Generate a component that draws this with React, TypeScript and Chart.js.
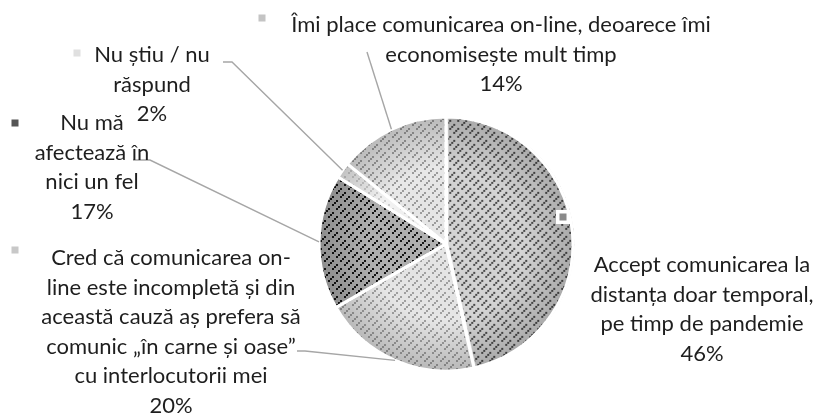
import React, { useEffect, useRef } from 'react';
import { Chart, registerables } from 'chart.js';

Chart.register(...registerables);

// ---- data ----
const categories = [
  'Accept comunicarea la distanța doar temporal, pe timp de pandemie',
  'Cred că comunicarea on-line este incompletă și din această cauză aș prefera să comunic „în carne și oase” cu interlocutorii mei',
  'Nu mă afectează în nici un fel',
  'Nu știu / nu răspund',
  'Îmi place comunicarea on-line, deoarece îmi economisește mult timp',
];
const values = [46, 20, 17, 2, 14];
const wrappedLabels = [
  ['Accept comunicarea la', 'distanța doar temporal,', 'pe timp de pandemie'],
  ['Cred că comunicarea on-', 'line este incompletă și din', 'această cauză aș prefera să', 'comunic „în carne și oase”', 'cu interlocutorii mei'],
  ['Nu mă', 'afectează în', 'nici un fel'],
  ['Nu știu / nu', 'răspund'],
  ['Îmi place comunicarea on-line, deoarece îmi', 'economisește mult timp'],
];

// ---- styles / layout ----
const patternBg = ['#d4d4d4', '#e6e6e6', '#b0b0b0', '#f2f2f2', '#e8e8e8'];
const patternFg = ['#4a4a4a', '#a0a0a0', '#141414', '#cccccc', '#9c9c9c'];
const keyColors = ['#8a8a8a', '#c8c8c8', '#555555', '#e0e0e0', '#c4c4c4'];
const sliceOffsets = [5, 0, 0, 0, 0];
const labelLayout = [
  { cx: 702, y0: 265, key: [563, 217], keyBox: true, leader: [] as number[][] },
  { cx: 171, y0: 258, key: [15, 250], keyBox: false, leader: [[297, 351], [305, 351]] },
  { cx: 92, y0: 123, key: [15, 123], keyBox: false, leader: [[133, 160], [150, 160]] },
  { cx: 152, y0: 55, key: [77, 53], keyBox: false, leader: [[223, 62], [232, 62]] },
  { cx: 501, y0: 25, key: [262, 18], keyBox: false, leader: [[367, 52]] },
];
const LINE_STEP = 29.6;
const FONT = '22px Lato';
const TEXT_COLOR = '#1e1e1e';
const LEADER_COLOR = '#a6a6a6';

function makePattern(bg: string, fg: string): CanvasPattern | string {
  const cell = 2;
  const n = 8;
  const c = document.createElement('canvas');
  c.width = n * cell;
  c.height = n * cell;
  const g = c.getContext('2d');
  if (!g) return bg;
  g.fillStyle = bg;
  g.fillRect(0, 0, c.width, c.height);
  g.fillStyle = fg;
  for (let y = 0; y < n; y++) {
    for (let x = 0; x < n; x++) {
      const d = (((x - y) % 8) + 8) % 8;
      if ((x + y) % 4 === 0 && d !== 6) g.fillRect(x * cell, y * cell, cell, cell);
    }
  }
  const p = g.createPattern(c, 'repeat');
  return p || bg;
}

const labelPlugin = {
  id: 'calloutLabels',
  afterDatasetsDraw(chart: any) {
    const ctx = chart.ctx as CanvasRenderingContext2D;
    const meta = chart.getDatasetMeta(0);
    meta.data.forEach((el: any) => {
      const p = el.getProps(['x', 'y', 'startAngle', 'endAngle', 'outerRadius'], true);
      ctx.save();
      ctx.beginPath();
      ctx.moveTo(p.x, p.y);
      ctx.arc(p.x, p.y, p.outerRadius, p.startAngle, p.endAngle);
      ctx.closePath();
      ctx.clip();
      const gr = ctx.createRadialGradient(p.x, p.y, 0, p.x, p.y, p.outerRadius);
      gr.addColorStop(0, 'rgba(255,255,255,0.05)');
      gr.addColorStop(0.6, 'rgba(0,0,0,0)');
      gr.addColorStop(1, 'rgba(0,0,0,0.2)');
      ctx.fillStyle = gr;
      ctx.fillRect(p.x - p.outerRadius, p.y - p.outerRadius, p.outerRadius * 2, p.outerRadius * 2);
      ctx.restore();
      ctx.save();
      ctx.beginPath();
      ctx.moveTo(p.x, p.y);
      ctx.arc(p.x, p.y, p.outerRadius, p.startAngle, p.endAngle);
      ctx.closePath();
      ctx.strokeStyle = '#ffffff';
      ctx.lineWidth = 3;
      ctx.lineJoin = 'bevel';
      ctx.stroke();
      ctx.restore();
    });
  },
  afterDraw(chart: any) {
    const ctx = chart.ctx as CanvasRenderingContext2D;
    const meta = chart.getDatasetMeta(0);
    meta.data.forEach((el: any, i: number) => {
      const p = el.getProps(['x', 'y', 'startAngle', 'endAngle', 'outerRadius'], true);
      const lay = labelLayout[i];
      const mid = (p.startAngle + p.endAngle) / 2;
      const ex = p.x + Math.cos(mid) * p.outerRadius;
      const ey = p.y + Math.sin(mid) * p.outerRadius;
      if (lay.leader.length) {
        ctx.save();
        ctx.strokeStyle = LEADER_COLOR;
        ctx.lineWidth = 1.4;
        ctx.beginPath();
        ctx.moveTo(lay.leader[0][0], lay.leader[0][1]);
        for (let k = 1; k < lay.leader.length; k++) ctx.lineTo(lay.leader[k][0], lay.leader[k][1]);
        ctx.lineTo(ex, ey);
        ctx.stroke();
        ctx.restore();
      }
      ctx.save();
      if (lay.keyBox) {
        ctx.fillStyle = '#ffffff';
        ctx.fillRect(lay.key[0] - 7, lay.key[1] - 7, 14, 14);
      }
      ctx.fillStyle = keyColors[i];
      ctx.fillRect(lay.key[0] - 3.5, lay.key[1] - 3.5, 7, 7);
      ctx.restore();
      ctx.save();
      ctx.font = FONT;
      ctx.fillStyle = TEXT_COLOR;
      ctx.textAlign = 'center';
      ctx.textBaseline = 'middle';
      const lines = [...wrappedLabels[i], `${values[i]}%`];
      lines.forEach((t, k) => ctx.fillText(t, lay.cx, lay.y0 + k * LINE_STEP));
      ctx.restore();
    });
  },
};

export default function App() {
  const ref = useRef<HTMLCanvasElement>(null);
  useEffect(() => {
    if (!ref.current) return;
    const patterns = values.map((_, i) => makePattern(patternBg[i], patternFg[i]));
    const chart = new Chart(ref.current, {
      type: 'pie',
      data: {
        labels: categories,
        datasets: [
          {
            data: values,
            backgroundColor: patterns as any,
            borderColor: '#ffffff',
            borderWidth: 2,
            offset: sliceOffsets,
          },
        ],
      },
      options: {
        responsive: false,
        animation: false,
        radius: 127,
        layout: { padding: { left: 72, top: 73, right: 0, bottom: 0 } },
        plugins: { legend: { display: false }, tooltip: { enabled: false } },
      } as any,
      plugins: [labelPlugin],
    });
    return () => chart.destroy();
  }, []);
  return (
    <div style={{ position: 'fixed', left: 0, top: 0, width: 820, height: 415, background: '#fff' }}>
      <canvas ref={ref} width={820} height={415} />
    </div>
  );
}
